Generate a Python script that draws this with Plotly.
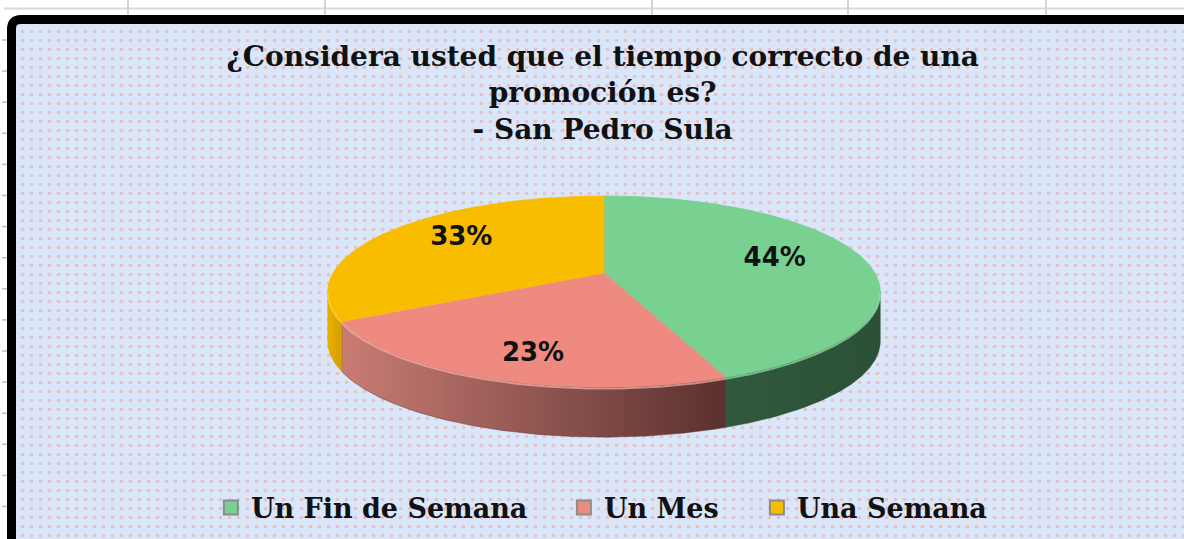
import numpy as np
import plotly.graph_objects as go

# ---------------- data ----------------
categories = ["Un Fin de Semana", "Un Mes", "Una Semana"]
values = [44, 23, 33]
labels = ["44%", "23%", "33%"]
title_lines = ["¿Considera usted que el tiempo correcto de una", "promoción es?", "- San Pedro Sula"]

# ---------------- style ----------------
top_colors = ["#78d191", "#ef8a81", "#f9bd00"]
side_light = ["#30593d", "#c97c74", "#eab000"]
side_dark = ["#2b5035", "#5a312e", "#d49c00"]
rim_colors = ["#9be3ad", "#f8b3aa", "#ffd24d"]
legend_widths = [308, 148, 215]

W, H = 1184, 539
CX, CY = 604, 273        # projected centre of the pie top
RX, RY = 271, 92         # radii of the projected disc
PERSP = 0.194            # perspective strength
DEPTH = 50               # thickness of the 3-D disc
LABEL_KX, LABEL_KZ = 0.66, 0.80


def project(theta_deg, kx=1.0, kz=1.0):
    t = np.radians(theta_deg)
    X = kx * np.sin(t)
    Z = kz * np.cos(t)
    s = 1.0 / (1.0 + PERSP * Z)
    return CX + RX * X * s, CY - RY * Z * s


# visible front range (silhouette extremes)
grid = np.linspace(0, 360, 3601)
gx, _ = project(grid)
theta_r = grid[np.argmax(gx)]
theta_l = grid[np.argmin(gx)]

total = float(sum(values))
starts = np.concatenate([[0.0], np.cumsum(values)[:-1]]) / total * 360.0
ends = np.cumsum(values) / total * 360.0

fig = go.Figure()

# background with dotted pattern
fig.add_trace(go.Scatter(
    x=[16, W + 5, W + 5, 16, 16], y=[24, 24, H + 5, H + 5, 24],
    mode="lines", fill="toself", line=dict(width=0),
    fillcolor="#dae6f9",
    fillpattern=dict(shape=".", bgcolor="#dae6f9", fgcolor="#f29b92",
                     size=9, solidity=0.13),
    hoverinfo="skip", showlegend=False))

# side walls
for i in range(len(values)):
    a0 = max(starts[i], theta_r)
    a1 = min(ends[i], theta_l)
    if a0 >= a1:
        continue
    arc = np.linspace(a0, a1, 300)
    xs, ys = project(arc)
    px = np.concatenate([xs, xs[::-1], xs[:1]])
    py = np.concatenate([ys, ys[::-1] + DEPTH, ys[:1]])
    fig.add_trace(go.Scatter(
        x=px, y=py, mode="lines", fill="toself",
        line=dict(width=0.5, color=side_dark[i]),
        fillgradient=dict(type="horizontal",
                          colorscale=[[0, side_light[i]], [1, side_dark[i]]]),
        hoverinfo="skip", showlegend=False))

# top faces
for i in range(len(values)):
    arc = np.linspace(starts[i], ends[i], 400)
    xs, ys = project(arc)
    px = np.concatenate([[CX], xs, [CX]])
    py = np.concatenate([[CY], ys, [CY]])
    fig.add_trace(go.Scatter(
        x=px, y=py, mode="lines", fill="toself",
        fillcolor=top_colors[i], line=dict(width=0.8, color=top_colors[i]),
        name=categories[i], text=[f"{categories[i]}: {labels[i]}"] * len(px),
        hoverinfo="text", showlegend=False))

# bevel highlight on the front rim
for i in range(len(values)):
    a0 = max(starts[i], theta_r)
    a1 = min(ends[i], theta_l)
    if a0 >= a1:
        continue
    arc = np.linspace(a0, a1, 300)
    xs, ys = project(arc)
    fig.add_trace(go.Scatter(
        x=xs, y=ys + 1.5, mode="lines",
        line=dict(width=2, color=rim_colors[i]), opacity=0.7,
        hoverinfo="skip", showlegend=False))

# data labels
mids = (starts + ends) / 2.0
lx, ly = project(mids, LABEL_KX, LABEL_KZ)
fig.add_trace(go.Scatter(
    x=lx, y=ly, mode="text", text=labels,
    textfont=dict(family="DejaVu Sans", size=26, color="#111111", weight="bold"),
    hoverinfo="skip", showlegend=False))

# legend entries
for i in range(len(values)):
    fig.add_trace(go.Scatter(
        x=[None], y=[None], mode="markers", name=categories[i],
        legendwidth=legend_widths[i],
        marker=dict(symbol="square", size=14, color=top_colors[i],
                    line=dict(color="#8c8c8c", width=2))))

# spreadsheet grid peeking above/left of the chart
shapes = [dict(type="line", xref="x", yref="y", x0=4, x1=W + 5, y0=8.5, y1=8.5,
               line=dict(color="#d9d9d9", width=2), layer="below")]
for gxv in [128, 325, 652, 848, 1046]:
    shapes.append(dict(type="line", xref="x", yref="y", x0=gxv, x1=gxv, y0=0, y1=16,
                       line=dict(color="#d4d4d4", width=2), layer="below"))
for k in range(16):
    yv = 40 + 31.1 * k
    shapes.append(dict(type="line", xref="x", yref="y", x0=2, x1=7, y0=yv, y1=yv,
                       line=dict(color="#bfbfbf", width=1.5), layer="below"))
# chart frame
shapes.append(dict(type="path",
                   path=f"M 11.5 {H + 20} L 11.5 29 Q 11.5 19.5 21 19.5 L {W + 20} 19.5",
                   xref="x", yref="y", line=dict(color="#000000", width=9), layer="above"))

fig.update_layout(
    width=W, height=H,
    margin=dict(l=0, r=0, t=0, b=0),
    paper_bgcolor="#ffffff", plot_bgcolor="#ffffff",
    xaxis=dict(range=[0, W], visible=False, fixedrange=True),
    yaxis=dict(range=[H, 0], visible=False, fixedrange=True),
    title=dict(text="<br>".join(title_lines), x=0.509, xanchor="center",
               y=1 - 66 / H, yanchor="top", yref="container",
               font=dict(family="DejaVu Serif", size=28, color="#111111", weight="bold")),
    legend=dict(orientation="h", x=0.5185, xanchor="center", y=1 - 508 / H, yanchor="middle",
                font=dict(family="DejaVu Serif", size=27, color="#111111", weight="bold"),
                bgcolor="rgba(0,0,0,0)", itemwidth=30, tracegroupgap=0,
                entrywidthmode="pixels"),
    shapes=shapes,
    showlegend=True,
)

fig.write_html("out.html", config={"displayModeBar": False},
               post_script="document.body.style.margin='0px';document.body.style.padding='0px';")
